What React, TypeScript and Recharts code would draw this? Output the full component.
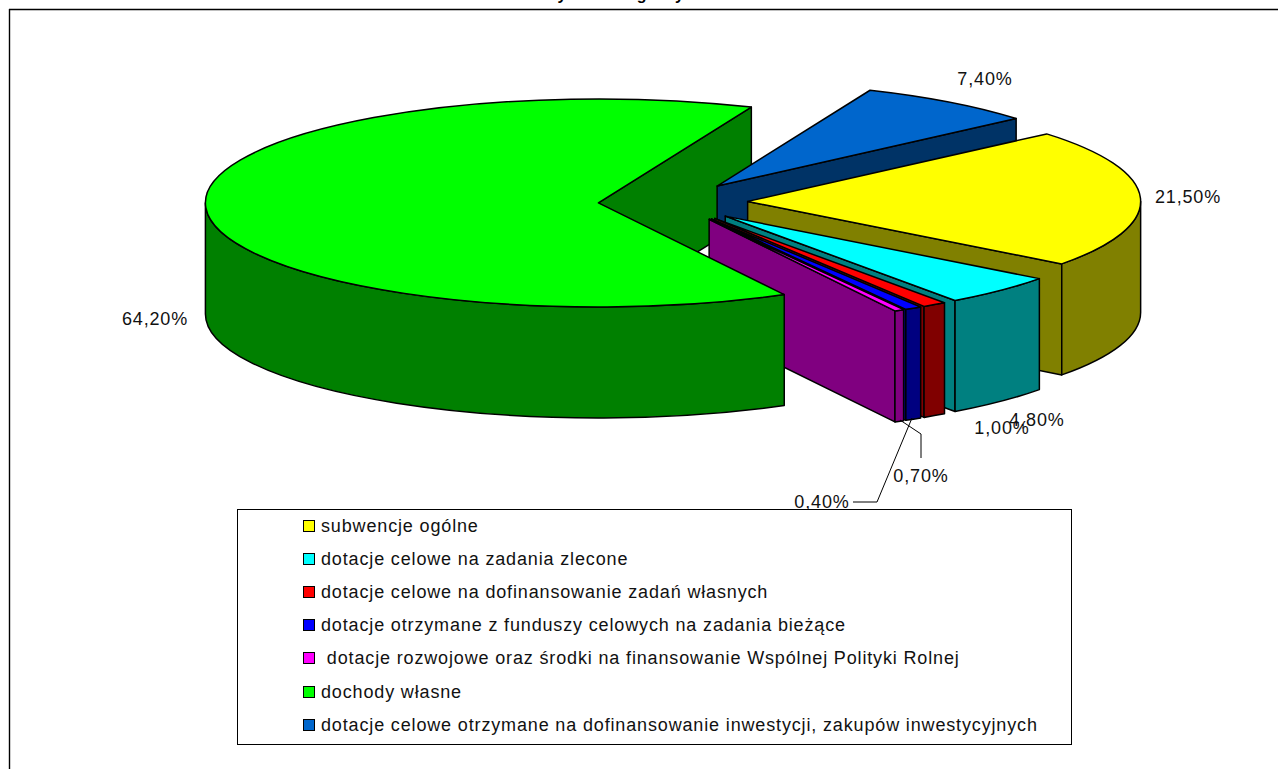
import React from "react";
import { Legend, Pie, PieChart } from "recharts";

const CATEGORIES = [
  "subwencje ogólne",
  "dotacje celowe na zadania zlecone",
  "dotacje celowe na dofinansowanie zadań własnych",
  "dotacje otrzymane z funduszy celowych na zadania bieżące",
  " dotacje rozwojowe oraz środki na finansowanie Wspólnej Polityki Rolnej",
  "dochody własne",
  "dotacje celowe otrzymane na dofinansowanie inwestycji, zakupów inwestycyjnych",
];
const VALUES = [21.5, 4.8, 1.0, 0.7, 0.4, 64.2, 7.4];
const TOP_COLORS = ["#ffff00", "#00ffff", "#ff0000", "#0000ff", "#ff00ff", "#00ff00", "#0066cc"];
const SIDE_COLORS = ["#808000", "#008080", "#800000", "#000080", "#800080", "#008000", "#003366"];

// label centres, same order as CATEGORIES
const LABEL_AT = [
  [1188, 197],
  [1037, 420],
  [1002, 428],
  [921, 476],
  [822, 502],
  [155, 319],
  [985, 79],
];

const WIDTH = 1278;
const HEIGHT = 769;
const CX = 673;
const CY = 202;
const RADIUS = 393;
const SQUASH = 104 / 393;
const DEPTH = 111;
const EXPLODE = 0.19;
const FIRST_ANGLE = 67.1;
const FONT = "'Liberation Sans', Arial, sans-serif";

// painter's order: dark blue at the back, green last so it covers the magenta wall
const rows = CATEGORIES.map((name, i) => ({
  name,
  value: VALUES[i],
  fill: TOP_COLORS[i],
  side: SIDE_COLORS[i],
  index: i,
}));
const drawn = [rows[6], ...rows.slice(0, 6)];

const rad = (deg: number) => (deg * Math.PI) / 180;

function geometry(props: any) {
  const { cx, cy, outerRadius, startAngle, endAngle } = props;
  const mid = (startAngle + endAngle) / 2;
  const ax = cx + outerRadius * EXPLODE * Math.cos(rad(mid));
  const ay = cy - outerRadius * EXPLODE * SQUASH * Math.sin(rad(mid));
  const rim = (deg: number, drop = 0) =>
    [ax + outerRadius * Math.cos(rad(deg)), ay - outerRadius * SQUASH * Math.sin(rad(deg)) + drop] as const;
  return { ax, ay, rim, mid, rx: outerRadius, ry: outerRadius * SQUASH, startAngle, endAngle };
}

function wallPath(g: any, deg: number) {
  const a = g.rim(deg);
  const b = g.rim(deg, DEPTH);
  return `M${g.ax},${g.ay}L${a[0]},${a[1]}L${b[0]},${b[1]}L${g.ax},${g.ay + DEPTH}Z`;
}

function outerPaths(g: any) {
  const paths: string[] = [];
  for (const k of [-360, 0, 360]) {
    const from = Math.min(g.startAngle, k);
    const to = Math.max(g.endAngle, k - 180);
    if (from <= to) continue;
    const a = g.rim(from);
    const b = g.rim(to);
    const c = g.rim(to, DEPTH);
    const d = g.rim(from, DEPTH);
    paths.push(
      `M${a[0]},${a[1]}A${g.rx},${g.ry} 0 0 1 ${b[0]},${b[1]}L${c[0]},${c[1]}A${g.rx},${g.ry} 0 0 0 ${d[0]},${d[1]}Z`
    );
  }
  return paths;
}

// radial wall of a slice that sits left of the centre, must be under everything else
function BackWall(props: any) {
  const g = geometry(props);
  if (Math.cos(rad(g.mid)) >= 0) return null;
  return <path d={wallPath(g, g.endAngle)} fill={props.payload.side} stroke="#000" strokeWidth={1.5} strokeLinejoin="round" />;
}

function Slice3D(props: any) {
  const g = geometry(props);
  const side = props.payload.side;
  const a = g.rim(g.startAngle);
  const b = g.rim(g.endAngle);
  const large = g.startAngle - g.endAngle > 180 ? 1 : 0;
  const top = `M${g.ax},${g.ay}L${a[0]},${a[1]}A${g.rx},${g.ry} 0 ${large} 1 ${b[0]},${b[1]}Z`;
  const shared = { stroke: "#000", strokeWidth: 1.5, strokeLinejoin: "round" as const };
  return (
    <g>
      {Math.cos(rad(g.mid)) >= 0 && <path d={wallPath(g, g.endAngle)} fill={side} {...shared} />}
      {outerPaths(g).map((d) => (
        <path key={d} d={d} fill={side} {...shared} />
      ))}
      <path d={top} fill={props.payload.fill} {...shared} />
    </g>
  );
}

function renderLabel(props: any) {
  const i = props.payload.index;
  const [x, y] = LABEL_AT[i];
  const text = `${VALUES[i].toFixed(2).replace(".", ",")}%`;
  return (
    <g key={i}>
      {i === 3 && <polyline points="900,420 921,434 921,458" fill="none" stroke="#000" strokeWidth={1} />}
      {i === 4 && <polyline points="912,418 877,502 853,502" fill="none" stroke="#000" strokeWidth={1} />}
      <text
        x={x}
        y={y}
        textAnchor="middle"
        dominantBaseline="central"
        fontFamily={FONT}
        fontSize={18}
        letterSpacing={0.85}
        fill="#111"
      >
        {text}
      </text>
    </g>
  );
}

function LegendBox() {
  return (
    <div
      style={{
        boxSizing: "border-box",
        width: 835,
        height: 236,
        border: "1px solid #000",
        background: "#fff",
        fontFamily: FONT,
        fontSize: 18,
        letterSpacing: 0.85,
        color: "#111",
        position: "relative",
      }}
    >
      {CATEGORIES.map((name, i) => (
        <div
          key={name}
          style={{
            position: "absolute",
            left: 65,
            top: 15.5 + i * 33.2 - 12,
            height: 24,
            lineHeight: "24px",
            whiteSpace: "pre",
            display: "flex",
            alignItems: "center",
          }}
        >
          <span
            style={{
              boxSizing: "border-box",
              width: 12,
              height: 12,
              border: "1px solid #000",
              background: TOP_COLORS[i],
              marginRight: 6,
              flex: "none",
            }}
          />
          {name}
        </div>
      ))}
    </div>
  );
}

export default function App() {
  return (
    <div style={{ position: "absolute", left: 0, top: 0, width: WIDTH, height: HEIGHT, overflow: "hidden", background: "#fff" }}>
      <PieChart width={WIDTH} height={HEIGHT} margin={{ top: 0, right: 0, bottom: 0, left: 0 }}>
        <line x1={9} y1={9.5} x2={WIDTH} y2={9.5} stroke="#000" strokeWidth={1.4} />
        <line x1={9.5} y1={9} x2={9.5} y2={HEIGHT} stroke="#000" strokeWidth={1.4} />
        <text x={498} y={0} fontFamily={FONT} fontSize={16} fontWeight="bold" fill="#000">
          Dochody budżetu gminy
        </text>
        <Pie
          data={drawn}
          dataKey="value"
          nameKey="name"
          cx={CX}
          cy={CY}
          outerRadius={RADIUS}
          startAngle={FIRST_ANGLE}
          endAngle={FIRST_ANGLE - 360}
          shape={BackWall}
          legendType="none"
          isAnimationActive={false}
        />
        <Pie
          data={drawn}
          dataKey="value"
          nameKey="name"
          cx={CX}
          cy={CY}
          outerRadius={RADIUS}
          startAngle={FIRST_ANGLE}
          endAngle={FIRST_ANGLE - 360}
          shape={Slice3D}
          label={renderLabel}
          labelLine={false}
          isAnimationActive={false}
        />
        <Legend
          content={<LegendBox />}
          wrapperStyle={{ left: 237, top: 509, bottom: "auto", width: 835, height: 236 }}
        />
      </PieChart>
    </div>
  );
}
